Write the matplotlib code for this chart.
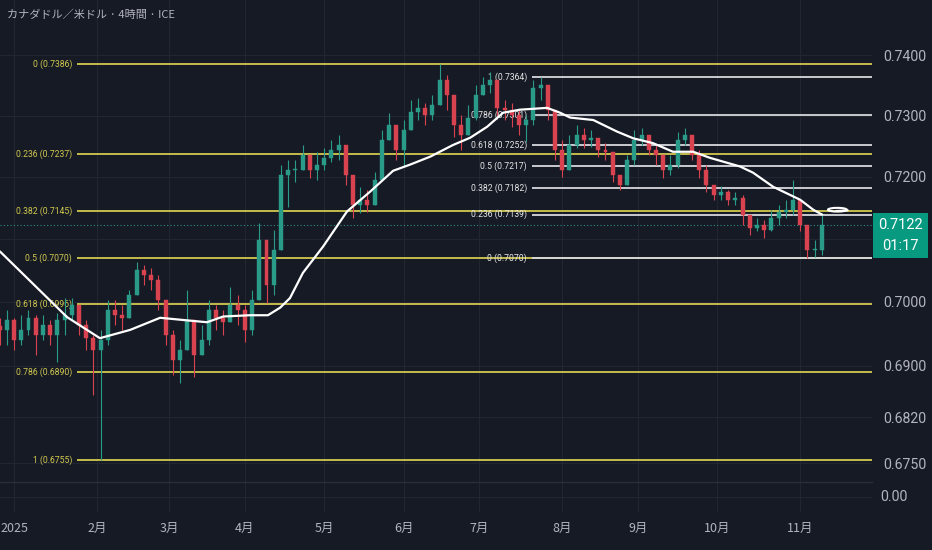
import numpy as np
import matplotlib
matplotlib.use("Agg")
import matplotlib.pyplot as plt
from matplotlib.patches import Rectangle, Ellipse
from matplotlib.ticker import FixedLocator, FixedFormatter, NullLocator

# ---------------- data ----------------
title = "カナダドル／米ドル · 4時間 · ICE"
start_date = "2024-12-26"
bar_step = 2  # business days per candle
first_open = 0.6962

closes = [0.6956, 0.6972, 0.6940, 0.6956, 0.6975, 0.6948, 0.6964, 0.6948, 0.6972, 0.6979,
          0.6995, 0.6964, 0.6943, 0.6924, 0.6940, 0.6987, 0.6979, 0.6975, 0.7011, 0.7051,
          0.7043, 0.7035, 0.7003, 0.6948, 0.6909, 0.6924, 0.6972, 0.6917, 0.6940, 0.6987,
          0.6975, 0.6968, 0.6995, 0.6987, 0.6956, 0.7003, 0.7099, 0.7027, 0.7083, 0.7203,
          0.7212, 0.7212, 0.7236, 0.7212, 0.7220, 0.7231, 0.7244, 0.7252, 0.7203, 0.7155,
          0.7163, 0.7155, 0.7195, 0.7260, 0.7285, 0.7244, 0.7277, 0.7306, 0.7313, 0.7301,
          0.7318, 0.7359, 0.7334, 0.7285, 0.7268, 0.7297, 0.7334, 0.7351, 0.7359, 0.7313,
          0.7310, 0.7301, 0.7285, 0.7293, 0.7346, 0.7351, 0.7310, 0.7244, 0.7212, 0.7252,
          0.7268, 0.7260, 0.7263, 0.7244, 0.7241, 0.7203, 0.7187, 0.7228, 0.7260, 0.7268,
          0.7244, 0.7236, 0.7212, 0.7220, 0.7260, 0.7268, 0.7236, 0.7212, 0.7187, 0.7171,
          0.7176, 0.7163, 0.7166, 0.7139, 0.7118, 0.7123, 0.7115, 0.7134, 0.7144, 0.7147,
          0.7163, 0.7123, 0.7083, 0.7083, 0.7122]
highs = [0.6975, 0.6987, 0.6975, 0.6979, 0.6987, 0.6979, 0.6979, 0.6972, 0.6982, 0.7006,
         0.7006, 0.6984, 0.6972, 0.6948, 0.6956, 0.7003, 0.7003, 0.6995, 0.7019, 0.7064,
         0.7059, 0.7054, 0.7043, 0.7003, 0.6956, 0.6940, 0.7019, 0.6964, 0.6964, 0.7003,
         0.6995, 0.6987, 0.7024, 0.7011, 0.6995, 0.7019, 0.7126, 0.7083, 0.7115, 0.7220,
         0.7228, 0.7228, 0.7252, 0.7231, 0.7241, 0.7247, 0.7260, 0.7268, 0.7247, 0.7187,
         0.7184, 0.7179, 0.7208, 0.7277, 0.7305, 0.7280, 0.7293, 0.7326, 0.7329, 0.7321,
         0.7334, 0.7386, 0.7368, 0.7326, 0.7301, 0.7318, 0.7351, 0.7364, 0.7373, 0.7346,
         0.7326, 0.7321, 0.7310, 0.7301, 0.7359, 0.7364, 0.7346, 0.7301, 0.7260, 0.7268,
         0.7285, 0.7280, 0.7277, 0.7260, 0.7255, 0.7228, 0.7203, 0.7236, 0.7277, 0.7280,
         0.7260, 0.7252, 0.7236, 0.7236, 0.7274, 0.7280, 0.7263, 0.7244, 0.7220, 0.7187,
         0.7186, 0.7179, 0.7176, 0.7171, 0.7139, 0.7134, 0.7131, 0.7147, 0.7155, 0.7163,
         0.7195, 0.7155, 0.7118, 0.7099, 0.7142]
lows = [0.6932, 0.6932, 0.6924, 0.6932, 0.6948, 0.6917, 0.6940, 0.6932, 0.6906, 0.6948,
        0.6972, 0.6948, 0.6924, 0.6855, 0.6755, 0.6932, 0.6964, 0.6956, 0.6975, 0.7011,
        0.7027, 0.7019, 0.6987, 0.6932, 0.6886, 0.6873, 0.6924, 0.6883, 0.6917, 0.6932,
        0.6956, 0.6948, 0.6975, 0.6964, 0.6937, 0.6948, 0.7003, 0.6998, 0.7011, 0.7091,
        0.7152, 0.7192, 0.7215, 0.7199, 0.7195, 0.7212, 0.7225, 0.7228, 0.7187, 0.7134,
        0.7142, 0.7144, 0.7163, 0.7220, 0.7260, 0.7228, 0.7217, 0.7280, 0.7293, 0.7285,
        0.7293, 0.7326, 0.7310, 0.7265, 0.7244, 0.7268, 0.7293, 0.7334, 0.7338, 0.7298,
        0.7293, 0.7282, 0.7268, 0.7257, 0.7285, 0.7326, 0.7293, 0.7228, 0.7200, 0.7228,
        0.7247, 0.7247, 0.7249, 0.7233, 0.7228, 0.7192, 0.7179, 0.7203, 0.7220, 0.7252,
        0.7236, 0.7220, 0.7199, 0.7203, 0.7215, 0.7252, 0.7228, 0.7199, 0.7176, 0.7163,
        0.7163, 0.7155, 0.7155, 0.7123, 0.7107, 0.7112, 0.7102, 0.7112, 0.7123, 0.7134,
        0.7139, 0.7112, 0.7070, 0.7072, 0.7075]

# moving average line (business-day offset from start, value)
ma_days = [0.1, 18.7, 27.8, 36.2, 44.5, 50.0, 57.5, 62.0, 69.4, 74.4, 77.8, 80.5, 84.1,
           89.7, 96.3, 102.7, 109.1, 113.8, 119.4, 125.7, 130.5, 135.2, 139.6, 144.3,
           151.8, 155.4, 158.2, 164.6, 171.2, 175.7, 181.2, 186.7, 192.3, 197.0, 205.3,
           208.9, 214.5, 222.0, 225.6, 228.1]
ma_vals = [0.7080, 0.6976, 0.6943, 0.6956, 0.6975, 0.6972, 0.6968, 0.6977, 0.6979, 0.6979,
           0.6991, 0.7006, 0.7046, 0.7088, 0.7144, 0.7176, 0.7210, 0.7220, 0.7233, 0.7252,
           0.7264, 0.7282, 0.7305, 0.7310, 0.7313, 0.7305, 0.7297, 0.7293, 0.7274, 0.7263,
           0.7255, 0.7241, 0.7241, 0.7231, 0.7217, 0.7207, 0.7184, 0.7163, 0.7147, 0.7139]

fib1_ratios = ["0", "0.236", "0.382", "0.5", "0.618", "0.786", "1"]
fib1_prices = [0.7386, 0.7237, 0.7145, 0.7070, 0.6996, 0.6890, 0.6755]
fib2_ratios = ["1", "0.786", "0.618", "0.5", "0.382", "0.236", "0"]
fib2_prices = [0.7364, 0.7301, 0.7252, 0.7217, 0.7182, 0.7139, 0.7070]

current_price = 0.7122
countdown = "01:17"

y_ticks = [0.7400, 0.7300, 0.7200, 0.7000, 0.6900, 0.6820, 0.6750]
y_tick_labels = ["0.7400", "0.7300", "0.7200", "0.7000", "0.6900", "0.6820", "0.6750"]
month_dates = ["2025-01-01", "2025-02-03", "2025-03-03", "2025-04-01", "2025-05-01",
               "2025-06-02", "2025-07-01", "2025-08-01", "2025-09-01", "2025-10-01",
               "2025-11-03"]
month_labels = ["2025", "2月", "3月", "4月", "5月", "6月", "7月", "8月", "9月", "10月", "11月"]

# ---------------- style ----------------
BG = "#161a25"
GRID = "#222632"
TXT = "#b2b5be"
UP = "#2a9a89"
DN = "#d9434f"
FIBY = "#d2c94f"
FIBW = "#d6d8de"
CJK = ["Noto Sans CJK JP", "DejaVu Sans"]

W, H = 932, 550
fig = plt.figure(figsize=(W / 100, H / 100), dpi=100, facecolor=BG)
ax = fig.add_axes([0, 1 - 482 / H, 872 / W, 482 / H], facecolor=BG)
ax2 = fig.add_axes([0, 1 - 512 / H, 872 / W, 30 / H], facecolor=BG, sharex=ax)

start = np.datetime64(start_date)
n = len(closes)
x = np.arange(n) * bar_step
opens = [first_open] + closes[:-1]
o = np.array(opens); c = np.array(closes)
hi = np.maximum(np.array(highs), np.maximum(o, c))
lo = np.minimum(np.array(lows), np.minimum(o, c))
up = c >= o
cols = np.where(up, UP, DN)

month_x = [np.busday_count(start, np.datetime64(d)) for d in month_dates]

ax.set_yscale("log")
ax.set_xlim(0.1, 241.9)
ax.set_ylim(0.67215, 0.74930)

# grid
for mx in month_x:
    ax.axvline(mx, color=GRID, lw=0.8, zorder=0)
    ax2.axvline(mx, color=GRID, lw=0.8, zorder=0)
for yt in y_ticks + [0.7100]:
    ax.axhline(yt, color=GRID, lw=0.8, zorder=0)

# fib retracements
fib1_start = 21.5
fib2_start = 147.6
for r, p in zip(fib1_ratios, fib1_prices):
    ax.hlines(p, fib1_start, 241.9, color=FIBY, lw=1.3, zorder=1)
    ax.text(fib1_start - 1.4, p, f"{r} ({p:.4f})", ha="right", va="center",
            fontsize=6.2, color=FIBY, family="Roboto", zorder=1)
for r, p in zip(fib2_ratios, fib2_prices):
    ax.hlines(p, fib2_start, 241.9, color=FIBW, lw=1.3, zorder=1)
    ax.text(fib2_start - 1.4, p, f"{r} ({p:.4f})", ha="right", va="center",
            fontsize=6.2, color="#e6e6e6", family="Roboto", zorder=1)

# current price line
ax.axhline(current_price, color="#2a8f86", lw=0.8, ls=(0, (1, 2)), zorder=1)

# candles
ax.vlines(x, lo, hi, colors=cols, lw=0.8, zorder=2)
body_bot = np.minimum(o, c)
body_h = np.maximum(np.abs(c - o), 0.00006)
ax.bar(x, body_h, bottom=body_bot, width=1.1, color=cols, edgecolor=cols, lw=0.3, zorder=3)

# moving average
ax.plot(ma_days, ma_vals, color="white", lw=1.6, zorder=4, solid_capstyle="round",
        solid_joinstyle="round")
# small loop drawn at the end of the MA
ax.add_patch(Ellipse((ma_days[-1] + 4.2, ma_vals[-1] + 0.0008), 5.2, 0.0006,
                     fill=False, edgecolor="white", lw=1.5, zorder=4))
ax.plot([ma_days[-1] + 4.0, ma_days[-1] + 7.0],
        [ma_vals[-1] + 0.0006, ma_vals[-1] + 0.0007], color="white", lw=1.5, zorder=4)

# axes cosmetics
for a in (ax, ax2):
    for s in a.spines.values():
        s.set_visible(False)
ax.yaxis.set_major_locator(FixedLocator(y_ticks))
ax.yaxis.set_major_formatter(FixedFormatter(y_tick_labels))
ax.yaxis.set_minor_locator(NullLocator())
ax.yaxis.tick_right()
ax.tick_params(axis="y", length=0, pad=8, labelcolor=TXT, labelsize=10.2)
for t in ax.get_yticklabels():
    t.set_family("Roboto")
ax.tick_params(axis="x", which="both", length=0, labelbottom=False)

ax2.set_ylim(-1, 1)
ax2.set_yticks([])
ax2.axhline(0, color=GRID, lw=0.8)
ax2.plot([0, 1], [1, 1], transform=ax2.transAxes, color="#2a2e39", lw=1.0, clip_on=False)
ax2.set_xticks(month_x)
ax2.set_xticklabels(month_labels)
ax2.tick_params(axis="x", length=0, pad=7, labelcolor=TXT, labelsize=9)
for t in ax2.get_xticklabels():
    t.set_family(CJK)
fig.text(880 / W, 1 - 497 / H, "0.00", ha="left", va="center", color=TXT,
         fontsize=10.2, family="Roboto")

# title
fig.text(7 / W, 1 - 15 / H, title, ha="left", va="center", color=TXT, fontsize=8.0,
         family=CJK)

# current price tag
fig.patches.append(Rectangle((873 / W, 1 - 258 / H), 55 / W, 45 / H, transform=fig.transFigure,
                             facecolor="#089981", edgecolor="none"))
fig.text(900 / W, 1 - 225 / H, f"{current_price:.4f}", ha="center", va="center",
         color="white", fontsize=10.5, family="Roboto")
fig.text(900 / W, 1 - 246 / H, countdown, ha="center", va="center",
         color="white", fontsize=10.5, family="Roboto")

fig.savefig("out.png", dpi=100, facecolor=BG)
